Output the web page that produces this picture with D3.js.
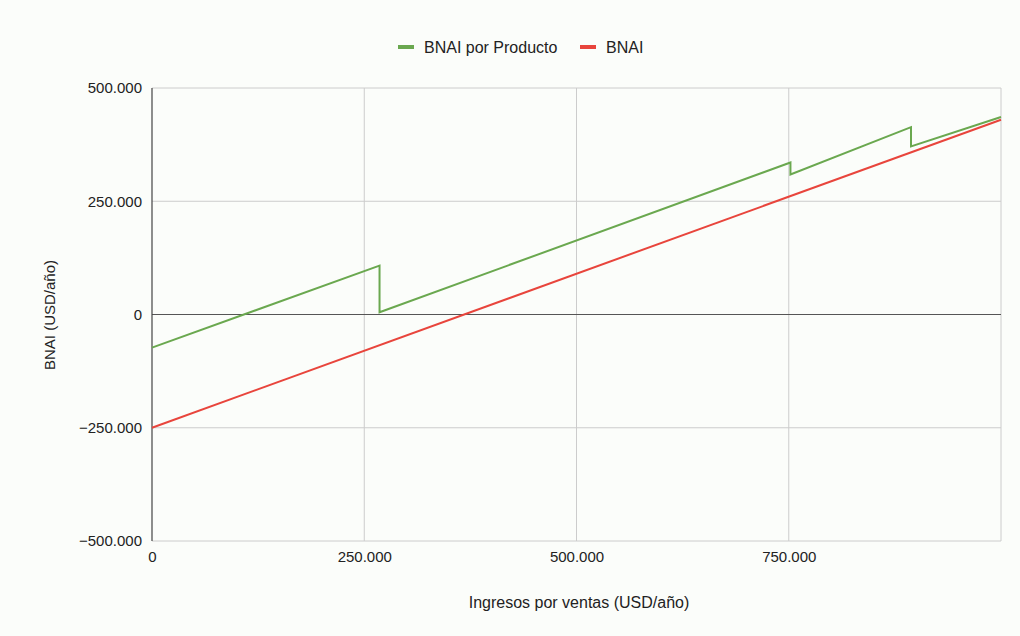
<!DOCTYPE html>
<html><head><meta charset="utf-8">
<script src="https://cdn.jsdelivr.net/npm/d3@7"></script>
<style>body{margin:0;background:#fff;}svg{display:block;font-family:"Liberation Sans",Arial,sans-serif;}</style>
</head><body><svg id="c" width="1020" height="636"></svg>
<script>
const xTicks=[0,250000,500000,750000];
const yTicks=[-500000,-250000,0,250000,500000];
const seriesNames=["BNAI por Producto","BNAI"];
const seriesColors=["#6aa84f","#e8453c"];
const productoX=[0,268000,268000,752000,752000,894000,894000,1000000];
const productoY=[-73000,108000,5000,335500,309000,413500,371000,436000];
const bnaiX=[0,1000000];
const bnaiY=[-250000,430000];
const fmt=v=>d3.format(",")(v).replace(/,/g,".");

const svg=d3.select("#c");
svg.append("rect").attr("width",1020).attr("height",636).attr("fill","#fbfdfa");
const L=152,R=1001,T=88,B=541;
const x=d3.scaleLinear().domain([0,1000000]).range([L,R]);
const y=d3.scaleLinear().domain([-500000,500000]).range([B,T]);
// grid
svg.append("g").selectAll("line").data(xTicks.filter(d=>d>0)).join("line")
 .attr("x1",d=>x(d)).attr("x2",d=>x(d)).attr("y1",T).attr("y2",B).attr("stroke","#cccccc");
svg.append("line").attr("x1",R).attr("x2",R).attr("y1",T).attr("y2",B).attr("stroke","#cccccc");
svg.append("g").selectAll("line").data(yTicks.filter(d=>d!==0)).join("line")
 .attr("x1",L).attr("x2",R).attr("y1",d=>y(d)).attr("y2",d=>y(d)).attr("stroke","#cccccc");
svg.append("line").attr("x1",L).attr("x2",R).attr("y1",y(0)).attr("y2",y(0)).attr("stroke","#555").attr("stroke-width",1);
svg.append("line").attr("x1",L).attr("x2",L).attr("y1",T).attr("y2",B).attr("stroke","#444").attr("stroke-width",1.2);
// labels
const yAxis=d3.axisLeft(y).tickValues(yTicks).tickFormat(fmt).tickSize(0).tickPadding(10);
const gy=svg.append("g").attr("transform",`translate(${L},0)`).call(yAxis);
gy.select(".domain").remove();
gy.selectAll("text").attr("font-size",15).attr("fill","#222").attr("font-family","Liberation Sans, Arial, sans-serif");
const xAxis=d3.axisBottom(x).tickValues(xTicks).tickFormat(fmt).tickSize(0).tickPadding(10);
const gx=svg.append("g").attr("transform",`translate(0,${B})`).call(xAxis);
gx.select(".domain").remove();
gx.selectAll("text").attr("font-size",15).attr("fill","#222").attr("font-family","Liberation Sans, Arial, sans-serif");
// lines
const line=d3.line().x(d=>x(d[0])).y(d=>y(d[1]));
svg.append("path").attr("d",line(bnaiX.map((v,i)=>[v,bnaiY[i]]))).attr("fill","none").attr("stroke",seriesColors[1]).attr("stroke-width",2);
svg.append("path").attr("d",line(productoX.map((v,i)=>[v,productoY[i]]))).attr("fill","none").attr("stroke",seriesColors[0]).attr("stroke-width",2);
// titles
svg.append("text").attr("x",579).attr("y",608).attr("text-anchor","middle").attr("font-size",16).attr("fill","#222").text("Ingresos por ventas (USD/año)");
svg.append("text").attr("transform","translate(55,315) rotate(-90)").attr("text-anchor","middle").attr("font-size",15).attr("fill","#222").text("BNAI (USD/año)");
// legend
const leg=[{x:398,t:seriesNames[0],c:seriesColors[0]},{x:580,t:seriesNames[1],c:seriesColors[1]}];
leg.forEach(l=>{
 svg.append("line").attr("x1",l.x).attr("x2",l.x+16).attr("y1",47).attr("y2",47).attr("stroke",l.c).attr("stroke-width",4);
 svg.append("text").attr("x",l.x+26).attr("y",53).attr("font-size",16).attr("fill","#222").text(l.t);
});
</script></body></html>
